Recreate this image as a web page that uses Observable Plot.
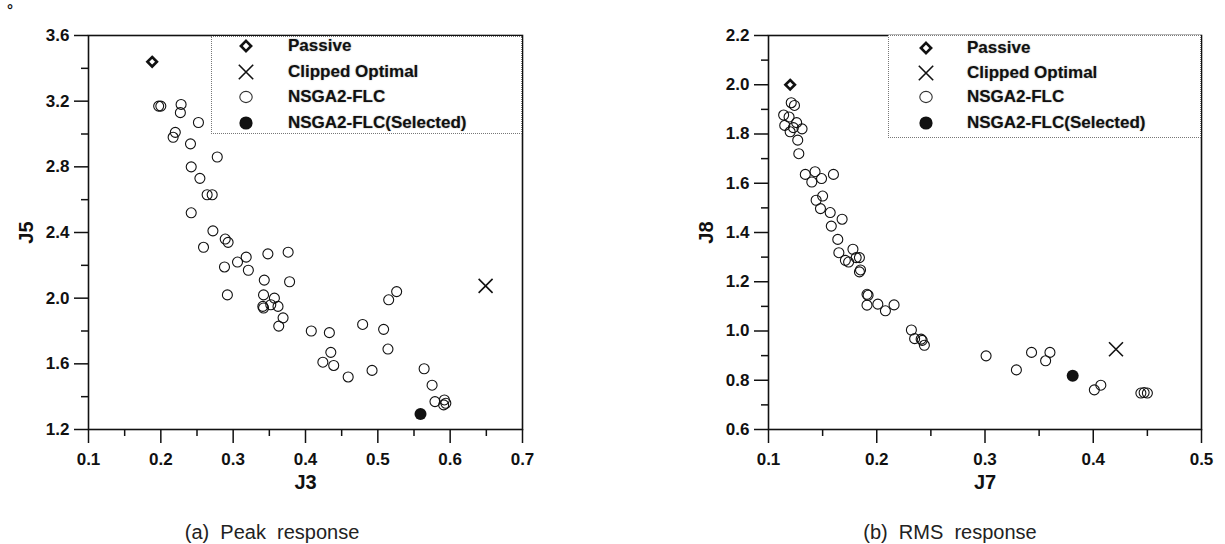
<!DOCTYPE html>
<html><head><meta charset="utf-8">
<script src="https://cdn.jsdelivr.net/npm/d3@7"></script>
<script src="https://cdn.jsdelivr.net/npm/@observablehq/plot@0.6"></script>
<style>
body{margin:0;background:#fff;}
#wrap{position:relative;width:1225px;height:544px;overflow:hidden;font-family:"Liberation Sans",Arial,sans-serif;color:#111;}
.pl{position:absolute;top:0;}
.legend{position:absolute;border:1px dotted #777;background:#fff;box-sizing:border-box;}
.row{position:absolute;left:0;height:0;}
.row svg{position:absolute;overflow:visible;}
.row span{position:absolute;font-weight:bold;font-size:17px;white-space:nowrap;transform:translateY(-50%);text-shadow:0 0 1.5px #999;}
.caption{position:absolute;font-size:20px;white-space:pre;color:#222;transform:translate(-50%,-50%);}
</style></head>
<body><div id="wrap"></div>
<script>
// ---------- (a) Peak response ----------
const peakPassiveJ3 = [0.188];
const peakPassiveJ5 = [3.44];
const peakClippedJ3 = [0.649];
const peakClippedJ5 = [2.075];
const peakSelectedJ3 = [0.559];
const peakSelectedJ5 = [1.295];
const peakFlcJ3 = [0.197,0.200,0.228,0.227,0.252,0.220,0.217,0.241,0.278,0.242,0.254,0.264,0.271,0.242,0.272,0.289,0.293,0.259,0.318,0.306,0.288,0.321,0.348,0.376,0.343,0.378,0.292,0.342,0.357,0.341,0.342,0.352,0.362,0.369,0.363,0.408,0.433,0.435,0.424,0.439,0.459,0.479,0.508,0.514,0.492,0.515,0.526,0.564,0.575,0.579,0.592,0.594,0.591];
const peakFlcJ5 = [3.17,3.17,3.18,3.13,3.07,3.01,2.98,2.94,2.86,2.80,2.73,2.63,2.63,2.52,2.41,2.36,2.34,2.31,2.25,2.22,2.19,2.17,2.27,2.28,2.11,2.10,2.02,2.02,2.00,1.95,1.94,1.96,1.95,1.88,1.83,1.80,1.79,1.67,1.61,1.59,1.52,1.84,1.81,1.69,1.56,1.99,2.04,1.57,1.47,1.37,1.38,1.36,1.35];
const peakXTicks = [0.1,0.2,0.3,0.4,0.5,0.6,0.7];
const peakXMinor = [0.15,0.25,0.35,0.45,0.55,0.65];
const peakYTicks = [1.2,1.6,2.0,2.4,2.8,3.2,3.6];
const peakYMinor = [1.4,1.8,2.2,2.6,3.0,3.4];

// ---------- (b) RMS response ----------
const rmsPassiveJ7 = [0.12];
const rmsPassiveJ8 = [2.0];
const rmsClippedJ7 = [0.421];
const rmsClippedJ8 = [0.926];
const rmsSelectedJ7 = [0.381];
const rmsSelectedJ8 = [0.818];
const rmsFlcJ7 = [0.121,0.124,0.114,0.119,0.126,0.115,0.123,0.131,0.120,0.127,0.128,0.134,0.143,0.140,0.149,0.160,0.150,0.144,0.148,0.157,0.168,0.158,0.164,0.165,0.178,0.171,0.174,0.181,0.184,0.185,0.184,0.191,0.192,0.191,0.201,0.208,0.216,0.232,0.235,0.241,0.242,0.244,0.301,0.329,0.343,0.356,0.360,0.401,0.407,0.444,0.447,0.450];
const rmsFlcJ8 = [1.927,1.916,1.877,1.869,1.846,1.835,1.826,1.821,1.809,1.775,1.720,1.636,1.647,1.605,1.619,1.636,1.548,1.531,1.497,1.481,1.454,1.426,1.372,1.318,1.332,1.287,1.280,1.298,1.298,1.248,1.240,1.149,1.145,1.105,1.109,1.082,1.106,1.004,0.969,0.967,0.962,0.942,0.899,0.842,0.913,0.879,0.913,0.761,0.780,0.748,0.750,0.748];
const rmsXTicks = [0.1,0.2,0.3,0.4,0.5];
const rmsXMinor = [0.15,0.25,0.35,0.45];
const rmsYTicks = [0.6,0.8,1.0,1.2,1.4,1.6,1.8,2.0,2.2];
const rmsYMinor = [0.7,0.9,1.1,1.3,1.5,1.7,1.9,2.1];

const legendLabels = ["Passive","Clipped Optimal","NSGA2-FLC","NSGA2-FLC(Selected)"];
const captions = ["(a)  Peak  response","(b)  RMS  response"];

const pts = (xs, ys) => xs.map((x, i) => ({x, y: ys[i]}));
const F = "'Liberation Sans', Arial, sans-serif";

function scatter(o) {
  const svg = Plot.plot({
    width: o.width, height: 500,
    marginLeft: 88, marginRight: o.marginRight, marginTop: 35, marginBottom: 71,
    style: {fontFamily: F, background: "transparent", color: "#111"},
    x: {domain: o.xDomain},
    y: {domain: o.yDomain},
    marks: [
      Plot.frame({stroke: "#111", strokeWidth: 1.6}),
      Plot.axisX(o.xMinor, {tickSize: 7, tickFormat: () => "", label: null, strokeWidth: 1.5}),
      Plot.axisX(o.xTicks, {tickSize: 14, tickPadding: 9, tickFormat: d3.format(".1f"), fontSize: 17, fontWeight: "bold",
        label: o.xLabel, labelAnchor: "center", labelArrow: "none", labelOffset: 59, strokeWidth: 1.5}),
      Plot.axisY(o.yMinor, {tickSize: 7, tickFormat: () => "", label: null, strokeWidth: 1.5}),
      Plot.axisY(o.yTicks, {tickSize: 14, tickPadding: 5, tickFormat: d3.format(".1f"), fontSize: 17, fontWeight: "bold",
        label: o.yLabel, labelAnchor: "center", labelArrow: "none", labelOffset: 70, strokeWidth: 1.5}),
      Plot.dot(o.flc, {x: "x", y: "y", r: 5, stroke: "#111", strokeWidth: 1.1, fill: "none"}),
      Plot.dot(o.passive, {x: "x", y: "y", symbol: "diamond2", r: 4.3, stroke: "#111", strokeWidth: 2.6, fill: "none"}),
      Plot.dot(o.clipped, {x: "x", y: "y", symbol: "times", r: 6.4, stroke: "#111", strokeWidth: 1.6}),
      Plot.dot(o.selected, {x: "x", y: "y", r: 6, fill: "#111", stroke: "none"})
    ]
  });
  svg.querySelectorAll('g[aria-label="x-axis label"], g[aria-label="y-axis label"]').forEach(g => {
    g.setAttribute("font-size", 20);
    g.setAttribute("font-weight", "bold");
  });
  svg.classList.add("pl");
  svg.style.left = o.left + "px";
  return svg;
}

const wrap = document.getElementById("wrap");

wrap.appendChild(scatter({
  left: 0, width: 560, marginRight: 38,
  xDomain: [0.1, 0.7], yDomain: [1.2, 3.6],
  xTicks: peakXTicks, xMinor: peakXMinor, yTicks: peakYTicks, yMinor: peakYMinor,
  xLabel: "J3", yLabel: "J5",
  flc: pts(peakFlcJ3, peakFlcJ5), passive: pts(peakPassiveJ3, peakPassiveJ5),
  clipped: pts(peakClippedJ3, peakClippedJ5), selected: pts(peakSelectedJ3, peakSelectedJ5)
}));

wrap.appendChild(scatter({
  left: 680, width: 545, marginRight: 24,
  xDomain: [0.1, 0.5], yDomain: [0.6, 2.2],
  xTicks: rmsXTicks, xMinor: rmsXMinor, yTicks: rmsYTicks, yMinor: rmsYMinor,
  xLabel: "J7", yLabel: "J8",
  flc: pts(rmsFlcJ7, rmsFlcJ8), passive: pts(rmsPassiveJ7, rmsPassiveJ8),
  clipped: pts(rmsClippedJ7, rmsClippedJ8), selected: pts(rmsSelectedJ7, rmsSelectedJ8)
}));

// legend symbols (drawn with d3 symbol generators, same as the marks)
const symSvg = [
  `<path d="${d3.symbol(d3.symbolDiamond2, 4.6*4.6*Math.PI)()}" fill="none" stroke="#111" stroke-width="2.6"/>`,
  `<path d="${d3.symbol(d3.symbolTimes, 6.6*6.6*Math.PI)()}" fill="none" stroke="#111" stroke-width="1.6"/>`,
  `<ellipse rx="6.2" ry="5.6" fill="none" stroke="#333" stroke-width="1.1"/>`,
  `<circle r="6.6" fill="#111"/>`
];
function legend(left, top, w, h, symX, textX, rows) {
  const div = document.createElement("div");
  div.className = "legend";
  Object.assign(div.style, {left: left + "px", top: top + "px", width: w + "px", height: h + "px"});
  legendLabels.forEach((lab, i) => {
    const r = document.createElement("div");
    r.className = "row";
    r.style.top = rows[i] + "px";
    r.innerHTML = `<svg width="1" height="1" style="left:${symX}px;top:0">${symSvg[i]}</svg><span style="left:${textX}px;top:0">${lab}</span>`;
    div.appendChild(r);
  });
  wrap.appendChild(div);
}
legend(211, 36, 311, 98, 34, 76, [9, 35, 60, 86]);
legend(888, 35, 313, 103, 37, 78, [12, 37, 61, 87]);

[[272, captions[0]], [950, captions[1]]].forEach(([x, t]) => {
  const c = document.createElement("div");
  c.className = "caption";
  c.textContent = t;
  c.style.left = x + "px";
  c.style.top = "532px";
  wrap.appendChild(c);
});
const deg = document.createElement("div");
deg.textContent = "°";
Object.assign(deg.style, {position: "absolute", left: "7px", top: "1px", fontSize: "15px", fontWeight: "bold"});
wrap.appendChild(deg);
</script></body></html>
